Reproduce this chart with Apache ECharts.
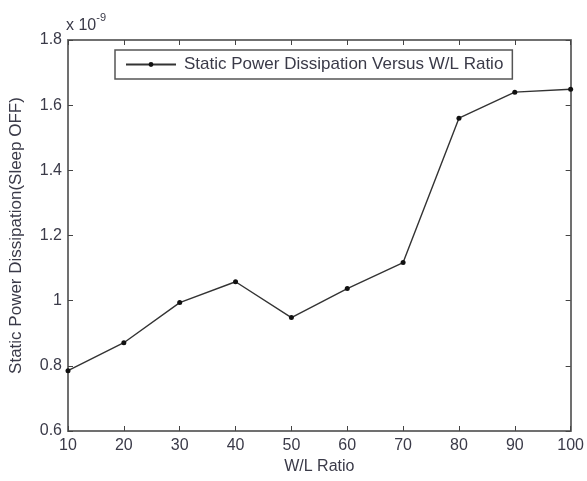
<!DOCTYPE html>
<html><head><meta charset="utf-8">
<script src="https://cdn.jsdelivr.net/npm/echarts@6/dist/echarts.min.js"></script>
<style>html,body{margin:0;padding:0;background:#fff}#c{width:587px;height:481px}</style>
</head><body><div id="c"></div>
<script>
const wlRatio = [10, 20, 30, 40, 50, 60, 70, 80, 90, 100];
const staticPower = [0.785, 0.871, 0.994, 1.058, 0.948, 1.037, 1.117, 1.56, 1.64, 1.649];
const yTicks = [0.6, 0.8, 1, 1.2, 1.4, 1.6, 1.8];
const seriesName = 'Static Power Dissipation Versus W/L Ratio';

const font = 'Liberation Sans, Arial, sans-serif';
const txt = '#3a3a48';
const axisCol = '#707070';
const chart = echarts.init(document.getElementById('c'));
const tickCommon = {show: true, inside: true, length: 5, lineStyle: {color: '#444', width: 1}};
chart.setOption({
  animation: false,
  backgroundColor: '#fff',
  grid: {left: 67, right: 14, top: 40, bottom: 50, containLabel: false},
  legend: {
    data: [seriesName], left: 115, top: 50,
    borderColor: '#555', borderWidth: 1.5, padding: [6, 9, 6, 10],
    itemWidth: 50, itemHeight: 6, itemGap: 5,
    textStyle: {fontFamily: font, fontSize: 17, color: txt, padding: [0, 0, 0, 3]}
  },
  xAxis: [{
    type: 'value', min: 10, max: 100, interval: 10,
    name: 'W/L Ratio', nameLocation: 'middle', nameGap: 27,
    nameTextStyle: {fontFamily: font, fontSize: 16, color: txt},
    axisLine: {show: true, lineStyle: {color: axisCol, width: 2}},
    axisTick: tickCommon,
    axisLabel: {fontFamily: font, fontSize: 16, color: txt, margin: 7, showMinLabel: true, showMaxLabel: true},
    splitLine: {show: false}
  }, {
    type: 'value', position: 'top', min: 10, max: 100, interval: 10,
    axisLine: {show: true, lineStyle: {color: axisCol, width: 2}},
    axisTick: tickCommon, axisLabel: {show: false}, splitLine: {show: false}
  }],
  yAxis: [{
    type: 'value', min: yTicks[0], max: yTicks[yTicks.length - 1], interval: 0.2,
    name: 'Static Power Dissipation(Sleep OFF)', nameLocation: 'middle', nameGap: 43,
    nameTextStyle: {fontFamily: font, fontSize: 17, color: txt},
    axisLine: {show: true, lineStyle: {color: axisCol, width: 2}},
    axisTick: tickCommon,
    axisLabel: {fontFamily: font, fontSize: 16, color: txt, margin: 6,
      formatter: v => String(Math.round(v * 10) / 10)},
    splitLine: {show: false}
  }, {
    type: 'value', position: 'right', min: yTicks[0], max: yTicks[yTicks.length - 1], interval: 0.2,
    axisLine: {show: true, lineStyle: {color: axisCol, width: 2}},
    axisTick: tickCommon, axisLabel: {show: false}, splitLine: {show: false}
  }],
  graphic: [{
    type: 'text', left: 66, top: 12,
    style: {
      text: '{a|x 10}{b|-9}',
      rich: {
        a: {fontFamily: font, fontSize: 16, fill: txt, padding: [8, 0, 0, 0]},
        b: {fontFamily: font, fontSize: 11, fill: txt, padding: [0, 0, 8, 0]}
      }
    }
  }],
  series: [{
    name: seriesName, type: 'line',
    data: wlRatio.map((x, i) => [x, staticPower[i]]),
    symbol: 'circle', symbolSize: 5, showSymbol: true,
    itemStyle: {color: '#111'},
    lineStyle: {color: '#333', width: 1.4},
    clip: false
  }]
});
</script></body></html>
